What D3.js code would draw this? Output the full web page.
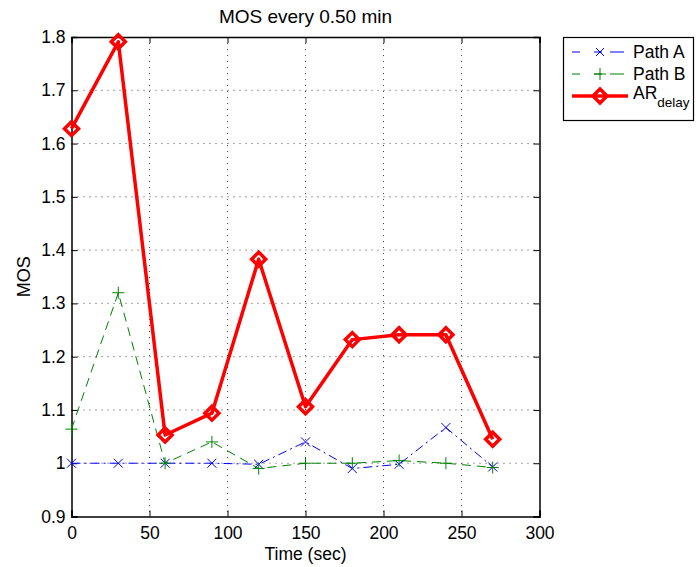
<!DOCTYPE html>
<html><head><meta charset="utf-8">
<script src="https://cdnjs.cloudflare.com/ajax/libs/d3/7.8.5/d3.min.js"></script>
<style>body{margin:0;background:#fff;}svg{font-family:"Liberation Sans",Arial,sans-serif;}</style>
</head><body><svg id="c" width="696" height="567"></svg>
<script>
const times = [0,30,60,90,120,150,180,210,240,270];
const pathA = [1.0,1.0,1.0,1.0,0.998,1.04,0.99,0.998,1.067,0.993];
const pathB = [1.064,1.32,1.0,1.04,0.99,1.0,1.0,1.005,1.0,0.992];
const arDelay = [1.628,1.791,1.053,1.094,1.383,1.106,1.232,1.241,1.241,1.045];
const xTicks = [0,50,100,150,200,250,300];
const yTicks = [0.9,1,1.1,1.2,1.3,1.4,1.5,1.6,1.7,1.8];
const yTickLabels = ["0.9","1","1.1","1.2","1.3","1.4","1.5","1.6","1.7","1.8"];

const svg = d3.select("#c");
const L=71.5, R=539.5, T=37, B=516.5;
const x = d3.scaleLinear().domain([0,300]).range([L,R]);
const y = d3.scaleLinear().domain([0.9,1.8]).range([B,T]);

// grid
const g = svg.append("g");
g.selectAll(".gx").data(xTicks.slice(1,-1)).enter().append("line")
 .attr("x1",d=>x(d)).attr("x2",d=>x(d)).attr("y1",T).attr("y2",B)
 .attr("stroke","#000").attr("stroke-width",1).attr("stroke-dasharray","1,5").attr("opacity",0.7);
g.selectAll(".gy").data(yTicks.slice(1,-1)).enter().append("line")
 .attr("y1",d=>y(d)).attr("y2",d=>y(d)).attr("x1",L).attr("x2",R)
 .attr("stroke","#000").attr("stroke-width",1).attr("stroke-dasharray","1,5").attr("opacity",0.7);

// axes
const ax = svg.append("g").attr("transform",`translate(0,${B})`)
 .call(d3.axisBottom(x).tickValues(xTicks).tickSize(-6).tickPadding(10));
const axT = svg.append("g").attr("transform",`translate(0,${T})`)
 .call(d3.axisTop(x).tickValues(xTicks).tickSize(-6).tickFormat(""));
const ay = svg.append("g").attr("transform",`translate(${L},0)`)
 .call(d3.axisLeft(y).tickValues(yTicks).tickSize(-6).tickPadding(6).tickFormat((d,i)=>yTickLabels[i]));
const ayR = svg.append("g").attr("transform",`translate(${R},0)`)
 .call(d3.axisRight(y).tickValues(yTicks).tickSize(-6).tickFormat(""));
[ax,axT,ay,ayR].forEach(a=>{
  a.select(".domain").attr("stroke","#000").attr("stroke-width",1.5);
  a.selectAll(".tick line").attr("stroke","#000");
  a.selectAll("text").attr("font-size",17.5).attr("fill","#000").attr("font-family","Liberation Sans, Arial, sans-serif");
});

// titles
svg.append("text").attr("x",(L+R)/2).attr("y",22.5).attr("text-anchor","middle").attr("font-size",19).text("MOS every 0.50 min");
svg.append("text").attr("x",(L+R)/2).attr("y",560).attr("text-anchor","middle").attr("font-size",17.5).text("Time (sec)");
svg.append("text").attr("transform",`translate(30,${(T+B)/2}) rotate(-90)`).attr("text-anchor","middle").attr("font-size",18).text("MOS");

const line = d3.line().x((d,i)=>x(times[i])).y(d=>y(d));

// Path A
svg.append("path").datum(pathA).attr("d",line).attr("fill","none").attr("stroke","#0000ff").attr("stroke-width",1).attr("stroke-dasharray","9,4,2,4");
function xMark(sel,cx,cy,s,col){
  sel.append("path").attr("d",`M${cx-s},${cy-s}L${cx+s},${cy+s}M${cx-s},${cy+s}L${cx+s},${cy-s}`).attr("stroke",col).attr("stroke-width",1).attr("fill","none");
}
function plusMark(sel,cx,cy,s,col){
  sel.append("path").attr("d",`M${cx-s},${cy}L${cx+s},${cy}M${cx},${cy-s}L${cx},${cy+s}`).attr("stroke",col).attr("stroke-width",1).attr("fill","none");
}
function diamond(sel,cx,cy,s){
  sel.append("path").attr("d",`M${cx},${cy-s}L${cx+s},${cy}L${cx},${cy+s}L${cx-s},${cy}Z`).attr("stroke","#ff0000").attr("stroke-width",3.5).attr("fill","none");
}
const mA = svg.append("g");
pathA.forEach((v,i)=>xMark(mA,x(times[i]),y(v),4.5,"#0000ff"));

// Path B
svg.append("path").datum(pathB).attr("d",line).attr("fill","none").attr("stroke","#008000").attr("stroke-width",1).attr("stroke-dasharray","9,6");
const mB = svg.append("g");
pathB.forEach((v,i)=>plusMark(mB,x(times[i]),y(v),6,"#008000"));

// AR delay
svg.append("path").datum(arDelay).attr("d",line).attr("fill","none").attr("stroke","#ff0000").attr("stroke-width",3.5).attr("stroke-linejoin","round");
const mR = svg.append("g");
arDelay.forEach((v,i)=>diamond(mR,x(times[i]),y(v),7));

// legend
const lg = svg.append("g");
lg.append("rect").attr("x",563.5).attr("y",37.5).attr("width",130).attr("height",83).attr("fill","#fff").attr("stroke","#000").attr("stroke-width",1.2);
const lx1=572, lx2=628, lmid=600;
const ly=[52,74,96];
lg.append("line").attr("x1",lx1).attr("x2",lx2).attr("y1",ly[0]).attr("y2",ly[0]).attr("stroke","#0000ff").attr("stroke-dasharray","8,14,8");
xMark(lg,lmid,ly[0],4,"#0000ff");
lg.append("line").attr("x1",lx1).attr("x2",lx2).attr("y1",ly[1]).attr("y2",ly[1]).attr("stroke","#008000").attr("stroke-dasharray","8,14,8");
plusMark(lg,lmid,ly[1],6,"#008000");
lg.append("line").attr("x1",lx1).attr("x2",lx2).attr("y1",ly[2]).attr("y2",ly[2]).attr("stroke","#ff0000").attr("stroke-width",3.5);
diamond(lg,lmid,ly[2],7);
lg.append("text").attr("x",633).attr("y",ly[0]+6).attr("font-size",17.5).text("Path A");
lg.append("text").attr("x",633).attr("y",ly[1]+6).attr("font-size",17.5).text("Path B");
const t3 = lg.append("text").attr("x",633).attr("y",ly[2]+3).attr("font-size",17.5);
t3.append("tspan").text("AR");
t3.append("tspan").attr("dy",8).attr("font-size",13.5).text("delay");
</script></body></html>
